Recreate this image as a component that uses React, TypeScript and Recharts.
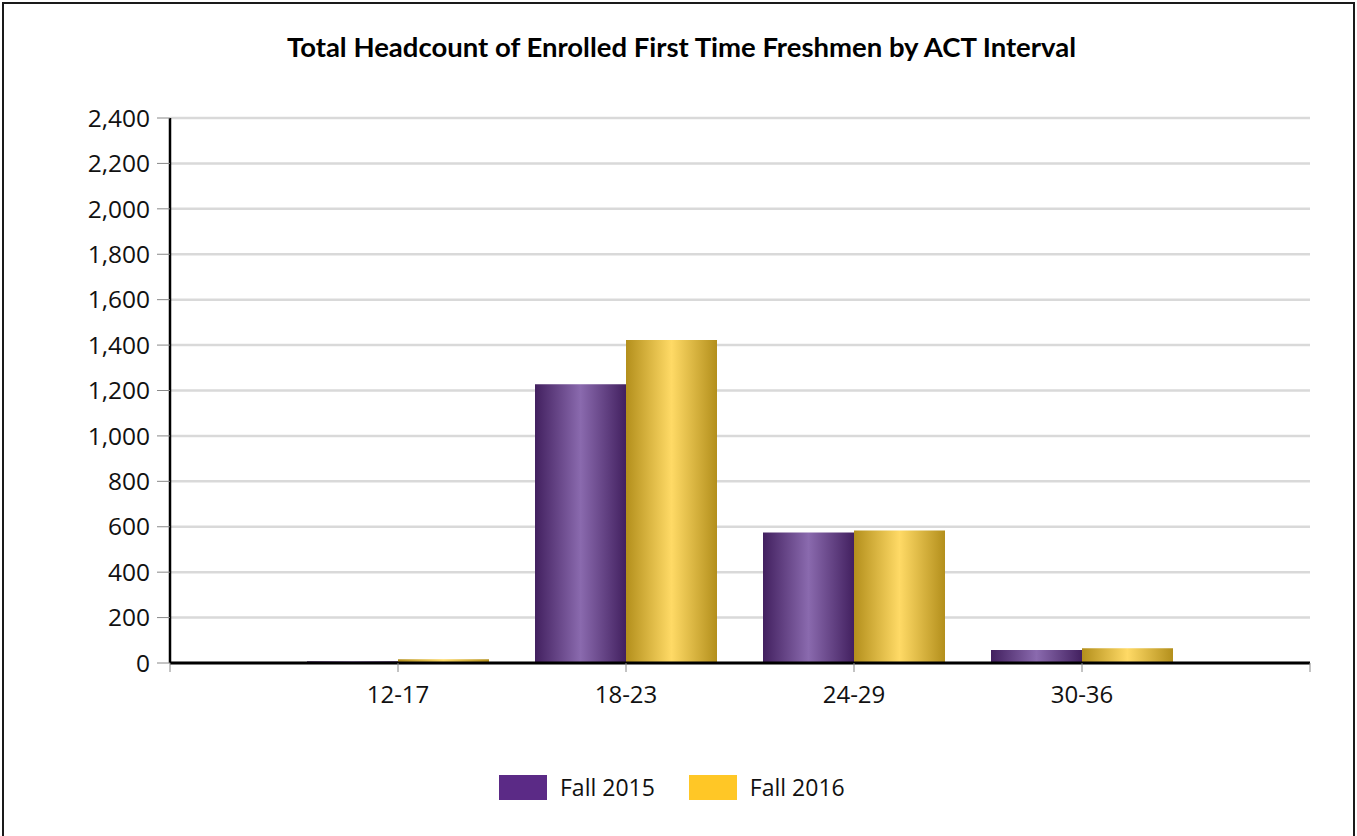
import { BarChart, Bar, XAxis, YAxis, CartesianGrid } from "recharts";

const categories = ["12-17", "18-23", "24-29", "30-36"];
const fall2015 = [8, 1227, 575, 57];
const fall2016 = [16, 1422, 584, 65];
const yTicks = [0, 200, 400, 600, 800, 1000, 1200, 1400, 1600, 1800, 2000, 2200, 2400];

const series = [
  { key: "fall2015", name: "Fall 2015", color: "#5b2a86", grad: "gradPurple" },
  { key: "fall2016", name: "Fall 2016", color: "#ffc726", grad: "gradGold" },
];

const data = categories.map((c, i) => ({
  category: c,
  fall2015: fall2015[i],
  fall2016: fall2016[i],
}));

const FONT = "'Open Sans', sans-serif";
const BAND = 228;

function XTick(props: any) {
  const { x, y, payload, index, visibleTicksCount } = props;
  const axisY = y - 15;
  return (
    <g>
      {index === 0 && (
        <line x1={x - BAND} x2={x - BAND} y1={axisY} y2={axisY + 9} stroke="#888" />
      )}
      {index === visibleTicksCount - 1 && (
        <line x1={x + BAND} x2={x + BAND} y1={axisY} y2={axisY + 9} stroke="#888" />
      )}
      <text x={x} y={y} dy={25} textAnchor="middle" fontSize={24} fontFamily={FONT} fill="#111">
        {payload.value}
      </text>
    </g>
  );
}

export default function App() {
  return (
    <div style={{ position: "absolute", left: 0, top: 0, width: 1357, height: 836, background: "#fff" }}>
      <div
        style={{
          position: "absolute",
          left: 2,
          top: 2,
          width: 1349,
          height: 850,
          border: "2px solid #1a1a1a",
        }}
      />
      <div
        style={{
          position: "absolute",
          top: 30,
          left: 0,
          width: 1363,
          textAlign: "center",
          fontFamily: "Lato, sans-serif",
          fontWeight: 700,
          fontSize: 27.5,
          color: "#000",
        }}
      >
        Total Headcount of Enrolled First Time Freshmen by ACT Interval
      </div>
      <div style={{ position: "absolute", left: 0, top: 0 }}>
        <BarChart
          width={1357}
          height={836}
          data={data}
          margin={{ top: 118, right: 47, left: 0, bottom: 113 }}
          barCategoryGap={23}
          barGap={0}
        >
          <defs>
            <linearGradient id="gradPurple" x1="0" y1="0" x2="1" y2="0">
              <stop offset="0%" stopColor="#42205f" />
              <stop offset="50%" stopColor="#8a6aae" />
              <stop offset="100%" stopColor="#42205f" />
            </linearGradient>
            <linearGradient id="gradGold" x1="0" y1="0" x2="1" y2="0">
              <stop offset="0%" stopColor="#b38f1c" />
              <stop offset="50%" stopColor="#ffda66" />
              <stop offset="100%" stopColor="#b38f1c" />
            </linearGradient>
          </defs>
          <CartesianGrid vertical={false} stroke="#d9d9d9" strokeWidth={2.5} />
          <XAxis
            dataKey="category"
            padding={{ left: 114, right: 114 }}
            height={60}
            axisLine={{ stroke: "#000", strokeWidth: 3 }}
            tickLine={{ stroke: "#888" }}
            tickSize={9}
            tickMargin={6}
            tick={<XTick />}
            interval={0}
          />
          <YAxis
            domain={[0, 2400]}
            ticks={yTicks}
            width={170}
            interval={0}
            tickFormatter={(v: number) => v.toLocaleString("en-US")}
            axisLine={{ stroke: "#000", strokeWidth: 2.5 }}
            tickLine={{ stroke: "#888" }}
            tickSize={13}
            tickMargin={7}
            tick={{ fontSize: 24.5, fontFamily: FONT, fill: "#111" }}
          />
          {series.map((s) => (
            <Bar
              key={s.key}
              dataKey={s.key}
              name={s.name}
              fill={`url(#${s.grad})`}
              isAnimationActive={false}
            />
          ))}
        </BarChart>
      </div>
      <div
        style={{
          position: "absolute",
          top: 775,
          left: 499,
          display: "flex",
          alignItems: "center",
          fontFamily: FONT,
          fontSize: 23,
          color: "#111",
        }}
      >
        {series.map((s, i) => (
          <div key={s.key} style={{ display: "flex", alignItems: "center", marginLeft: i ? 34 : 0 }}>
            <div style={{ width: 48, height: 25, background: s.color, marginRight: 13 }} />
            <span style={{ lineHeight: "25px" }}>{s.name}</span>
          </div>
        ))}
      </div>
    </div>
  );
}
